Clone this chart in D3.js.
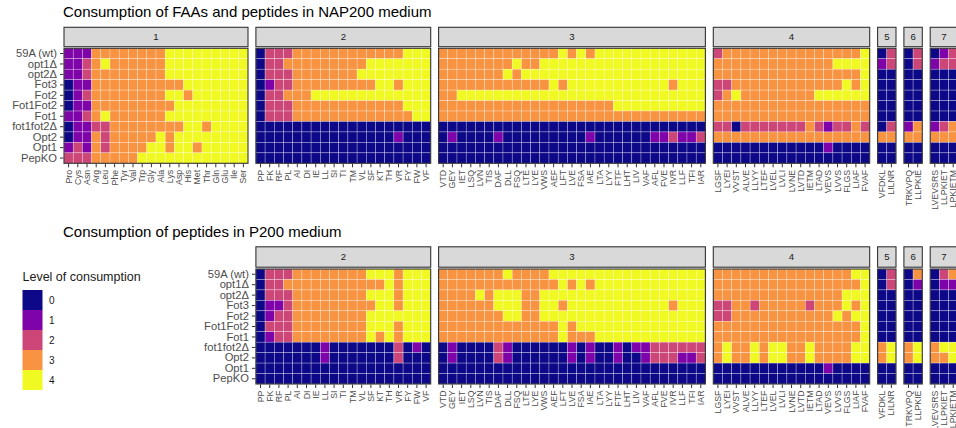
<!DOCTYPE html>
<html>
<head>
<meta charset="utf-8">
<script src="https://cdn.jsdelivr.net/npm/d3@7"></script>
<style>
  body { margin: 0; background: #fff; }
  svg { display: block; }
  text { font-family: "Liberation Sans", Arial, Helvetica, sans-serif; }
</style>
</head>
<body>
<svg id="chart" width="956" height="428"></svg>
<script>
// ---- categories -------------------------------------------------------
const strains = ["59A (wt)", "opt1Δ", "opt2Δ", "Fot3", "Fot2", "Fot1Fot2", "Fot1", "fot1fot2Δ", "Opt2", "Opt1", "PepKO"];
const levels = [0, 1, 2, 3, 4];
const levelColors = ["#0D0887", "#7E03A8", "#CC4678", "#F89441", "#F0F921"];

const aminoAcids = ["Pro","Cys","Asn","Arg","Leu","Phe","Tyr","Val","Trp","Gly","Ala","Lys","Asp","His","Met","Thr","Gln","Glu","Ile","Ser"];
const dipeptides = ["PP","FK","RF","PL","AI","DI","IE","LL","SI","TI","TM","VL","SF","KT","TH","VR","FY","FW","VF"];
const tripeptides = ["VTD","GEY","IET","LSQ","LVN","TIS","DAF","DLL","FSQ","LTE","LYE","VWS","AEF","LFT","LVE","FSA","IAE","LTA","LYY","FTF","LHT","LIV","VAF","AFL","FVE","IVR","LLF","TFI","IAR"];
const tetrapeptides = ["LGSF","LYEI","VVST","ALVE","LLYY","LTEF","LVEL","LVLI","LVNE","LVTD","IETM","LTAD","VEVS","LVVS","FLGS","LIAF","FVAF"];
const pentapeptides = ["VFDKL","LILNR"];
const hexapeptides = ["TRKVPQ","LLPKIE"];
const heptapeptides = ["LVEVSRS","LLPKIET","LPKIETM"];

const facetLabels = ["1", "2", "3", "4", "5", "6", "7"];
const facetColumns = [aminoAcids, dipeptides, tripeptides, tetrapeptides, pentapeptides, hexapeptides, heptapeptides];

// ---- consumption levels, NAP200 medium (rows follow `strains`) --------
const nap200Facet1 = [
  [1,1,1,3,3,3,3,3,3,3,3,4,4,4,4,4,4,4,4,4],
  [1,1,2,3,4,3,3,3,3,3,3,4,4,4,4,4,4,4,4,4],
  [1,1,2,3,3,3,3,3,3,3,3,4,4,4,4,4,4,4,4,4],
  [0,1,1,3,3,3,3,3,3,3,3,3,3,4,4,4,4,4,4,4],
  [0,1,2,3,3,3,3,3,3,3,3,4,4,3,4,4,4,4,4,4],
  [0,1,1,3,3,3,3,3,3,3,3,3,4,4,4,4,4,4,4,4],
  [1,1,2,3,4,3,3,3,3,3,3,4,4,4,4,4,4,4,4,4],
  [0,1,1,2,2,3,3,3,3,3,3,3,3,4,4,3,4,4,4,4],
  [0,1,1,3,2,3,3,3,3,3,4,3,4,4,4,4,4,4,4,4],
  [1,2,1,3,2,3,3,3,3,4,4,3,4,4,3,4,4,4,4,4],
  [2,2,2,3,3,3,3,3,4,4,4,4,4,4,4,4,4,4,4,4]
];
const nap200Facet2 = [
  [0,2,2,2,3,3,3,3,3,3,3,3,3,3,3,3,4,4,4],
  [0,2,2,3,3,3,3,3,3,3,3,3,4,4,4,4,4,4,4],
  [0,2,2,2,3,3,3,3,3,3,3,4,4,4,4,4,4,4,4],
  [0,1,2,2,3,3,3,3,3,3,3,3,3,4,4,3,4,4,4],
  [0,2,2,3,3,3,4,4,4,4,4,4,4,4,4,4,4,4,4],
  [0,2,2,2,3,3,3,3,3,3,3,3,3,3,3,3,4,4,4],
  [0,2,2,2,3,3,3,3,3,3,3,3,3,3,3,3,3,4,4],
  [0,0,0,0,0,0,0,0,0,0,0,0,0,0,0,0,0,0,0],
  [0,0,0,0,0,0,0,0,0,0,0,0,0,0,0,1,0,0,0],
  [0,0,0,0,0,0,0,0,0,0,0,0,0,0,0,0,0,0,0],
  [0,0,0,0,0,0,0,0,0,0,0,0,0,0,0,0,0,0,0]
];
const nap200Facet3 = [
  [3,3,3,3,3,3,3,3,3,3,3,3,3,4,3,4,3,4,4,4,4,4,4,4,4,4,4,4,4],
  [3,3,3,3,3,3,3,3,4,3,3,4,4,4,4,4,4,4,4,4,4,4,4,4,4,4,4,4,4],
  [3,3,3,3,3,3,3,4,3,4,4,4,4,4,4,4,4,4,4,4,4,4,4,4,4,4,4,4,4],
  [3,3,3,3,3,3,3,3,3,3,3,3,4,3,4,4,4,4,4,4,4,4,4,4,4,3,4,4,4],
  [3,3,4,4,4,4,4,4,4,4,4,4,4,4,4,4,4,4,4,4,4,4,4,4,4,4,4,4,4],
  [3,3,3,3,3,3,3,3,3,3,3,3,3,3,3,3,3,3,3,4,4,4,4,4,4,4,4,4,4],
  [3,3,3,3,3,3,3,3,3,3,3,3,3,3,3,3,3,3,3,3,3,3,3,3,3,3,3,3,3],
  [0,0,0,0,0,0,0,0,0,0,0,0,0,0,0,0,0,0,0,0,0,0,0,0,0,0,0,0,0],
  [0,1,0,0,0,0,1,0,0,0,0,0,0,0,0,0,1,0,0,0,0,0,0,1,1,2,1,1,2],
  [0,0,0,0,0,0,0,0,0,0,0,0,0,0,0,0,0,0,0,0,0,0,0,0,0,0,0,0,0],
  [0,0,0,0,0,0,0,0,0,0,0,0,0,0,0,0,0,0,0,0,0,0,0,0,0,0,0,0,0]
];
const nap200Facet4 = [
  [2,3,3,3,3,3,3,3,3,3,3,3,3,3,3,3,4],
  [3,3,3,3,3,3,3,3,3,3,3,3,3,4,4,4,4],
  [3,3,3,3,3,3,3,3,3,3,3,3,3,3,3,3,4],
  [2,2,3,3,3,3,3,3,3,3,3,3,3,3,4,3,4],
  [2,3,4,3,3,3,3,3,3,3,3,4,4,4,4,4,4],
  [3,3,3,3,3,3,3,3,3,3,3,3,3,3,3,3,3],
  [3,3,3,3,3,3,3,3,3,3,3,3,3,3,3,3,3],
  [2,2,0,2,2,2,2,2,2,2,3,2,1,2,2,3,2],
  [3,3,3,3,3,3,3,3,3,3,3,3,3,3,3,3,3],
  [0,0,0,0,0,0,0,0,0,0,0,0,1,0,0,0,0],
  [0,0,0,0,0,0,0,0,0,0,0,0,0,0,0,0,0]
];
const nap200Facet5 = [[0,2],[1,2],[0,0],[0,0],[0,0],[0,0],[0,0],[0,2],[3,3],[0,0],[0,0]];
const nap200Facet6 = [[0,2],[0,2],[0,0],[0,0],[0,0],[0,0],[0,0],[1,3],[3,3],[0,0],[0,0]];
const nap200Facet7 = [[0,1,2],[1,2,2],[0,0,0],[0,0,0],[0,0,0],[0,0,0],[0,0,0],[1,2,3],[3,3,3],[0,0,0],[0,0,0]];

// ---- consumption levels, P200 medium (peptides only) ------------------
const p200Facet2 = [
  [0,2,2,2,3,3,3,3,3,3,3,3,4,4,4,3,4,4,4],
  [0,2,2,3,3,3,3,3,3,3,3,3,3,3,4,3,4,4,4],
  [0,2,2,2,3,3,3,3,3,3,3,3,4,4,4,3,4,4,4],
  [0,1,1,2,3,3,3,3,3,3,3,3,3,4,4,3,4,4,4],
  [0,1,2,2,3,3,3,3,3,3,3,3,4,4,4,4,4,4,4],
  [0,2,2,2,3,3,3,3,3,3,3,3,4,4,4,3,4,4,4],
  [0,1,2,2,3,3,3,3,3,3,3,3,4,3,4,3,4,4,4],
  [0,0,0,0,0,0,0,1,0,0,0,0,0,0,0,2,0,1,0],
  [0,0,0,0,0,0,0,1,0,0,0,0,0,0,0,2,0,0,0],
  [0,0,0,0,0,0,0,0,0,0,0,0,0,0,0,0,0,0,0],
  [0,0,0,0,0,0,0,0,0,0,0,0,0,0,0,0,0,0,0]
];
const p200Facet3 = [
  [3,3,3,3,3,3,3,4,3,3,3,3,4,4,4,4,4,4,4,4,4,4,4,4,4,4,4,4,4],
  [3,3,3,3,3,3,3,3,3,3,3,3,3,4,3,4,3,4,4,4,4,4,4,4,4,4,4,4,4],
  [3,3,3,3,4,3,4,4,4,3,3,4,4,4,4,4,4,4,4,4,4,4,4,4,4,4,4,4,4],
  [3,3,3,3,3,3,4,4,4,3,3,4,4,3,4,4,4,4,4,4,4,4,4,4,4,3,4,4,4],
  [3,3,3,3,3,3,3,4,4,3,3,4,4,4,4,4,4,4,4,4,4,4,4,4,4,4,4,4,4],
  [3,3,3,3,3,3,3,3,3,3,3,3,3,4,3,4,4,4,4,4,4,4,4,4,4,4,4,4,4],
  [3,3,3,3,3,3,3,3,3,3,3,3,3,4,3,3,3,4,4,4,4,4,4,4,4,4,4,4,4],
  [0,1,0,0,0,0,2,1,0,0,0,0,0,0,1,0,1,0,0,1,0,1,1,2,2,2,2,2,2],
  [0,1,0,0,0,0,2,1,0,0,0,0,0,0,1,0,1,0,0,1,0,0,1,2,2,2,1,1,2],
  [0,0,0,0,0,0,0,0,0,0,0,0,0,0,0,0,0,0,0,0,0,0,0,0,0,0,0,0,0],
  [0,0,0,0,0,0,0,0,0,0,0,0,0,0,0,0,0,0,0,0,0,0,0,0,0,0,0,0,0]
];
const p200Facet4 = [
  [3,3,3,3,3,3,3,3,3,3,3,3,3,3,3,4,4],
  [3,3,3,3,3,3,3,3,3,3,3,3,3,3,3,3,4],
  [3,3,3,3,3,3,3,3,3,3,3,3,3,3,4,4,4],
  [2,2,3,3,2,3,3,3,3,3,2,3,3,3,4,3,4],
  [2,2,3,3,3,3,3,3,3,3,3,3,3,4,3,4,4],
  [3,3,3,3,3,3,3,3,3,3,3,3,3,3,3,3,4],
  [3,3,3,3,3,3,3,3,3,3,3,3,3,3,3,3,4],
  [3,4,3,3,4,3,4,4,3,3,4,3,3,3,3,4,4],
  [3,4,3,3,4,3,4,4,3,3,4,3,3,3,3,4,4],
  [0,0,0,0,0,0,0,0,0,0,0,0,1,0,0,0,0],
  [0,0,0,0,0,0,0,0,0,0,0,0,0,0,0,0,0]
];
const p200Facet5 = [[0,2],[0,2],[0,0],[0,0],[0,0],[0,0],[0,0],[3,4],[3,4],[0,0],[0,0]];
const p200Facet6 = [[0,3],[0,1],[0,0],[0,0],[0,0],[0,0],[0,0],[3,4],[3,4],[0,0],[0,0]];
const p200Facet7 = [[0,2,3],[0,1,1],[0,0,0],[0,0,0],[0,0,0],[0,0,0],[0,0,0],[3,4,4],[3,3,4],[0,0,0],[0,0,0]];

// ---- layout -----------------------------------------------------------
const svg = d3.select("#chart");
const colW = 9.2, panelGap = 7.9, plotLeft = 64;
const TEXT_DARK = "#4d4d4d", FRAME = "#333333";
const color = d3.scaleOrdinal().domain(levels).range(levelColors);

// horizontal extent of each facet (width proportional to its column count)
const facetExtent = [];
{
  let x = plotLeft;
  facetColumns.forEach(cols => {
    facetExtent.push([x, x + cols.length * colW]);
    x += cols.length * colW + panelGap;
  });
}

function drawHeatmap(opts) {
  const g = svg.append("g");
  const y = d3.scaleBand().domain(strains).range([opts.top, opts.bottom]);

  g.append("text")
    .attr("x", opts.titleX).attr("y", opts.titleY)
    .attr("font-size", 15).attr("fill", "#000")
    .text(opts.title);

  opts.facets.forEach(f => {
    const [x0, x1] = facetExtent[f.index];
    const cols = facetColumns[f.index];
    const x = d3.scaleBand().domain(cols).range([x0, x1]);
    const cells = [];
    f.values.forEach((row, ri) => row.forEach((v, ci) => cells.push({ strain: strains[ri], col: cols[ci], v })));

    // strip
    g.append("rect")
      .attr("x", x0).attr("y", opts.stripTop)
      .attr("width", x1 - x0).attr("height", opts.stripBottom - opts.stripTop)
      .attr("fill", "#d9d9d9").attr("stroke", FRAME).attr("stroke-width", 1.1);
    g.append("text")
      .attr("x", (x0 + x1) / 2).attr("y", (opts.stripTop + opts.stripBottom) / 2)
      .attr("dy", "0.35em").attr("text-anchor", "middle")
      .attr("font-size", 9.6).attr("fill", "#1a1a1a")
      .text(facetLabels[f.index]);

    // tiles
    g.append("g").selectAll("rect").data(cells).join("rect")
      .attr("x", d => x(d.col)).attr("y", d => y(d.strain))
      .attr("width", x.bandwidth()).attr("height", y.bandwidth())
      .attr("fill", d => color(d.v))
      .attr("stroke", "#ffffff").attr("stroke-opacity", 0.55).attr("stroke-width", 0.5);

    // panel frame
    g.append("rect")
      .attr("x", x0).attr("y", opts.top)
      .attr("width", x1 - x0).attr("height", opts.bottom - opts.top)
      .attr("fill", "none").attr("stroke", FRAME).attr("stroke-width", 1.1);

    // x axis with vertical labels
    const ax = g.append("g")
      .attr("transform", `translate(0,${opts.bottom + 0.5})`)
      .call(d3.axisBottom(x).tickSize(3.5).tickPadding(2.5));
    ax.select(".domain").remove();
    ax.selectAll(".tick line").attr("stroke", FRAME).attr("stroke-width", 1);
    ax.selectAll(".tick text")
      .attr("transform", "rotate(-90)")
      .attr("text-anchor", "end")
      .attr("x", -6).attr("y", 0).attr("dy", "0.34em")
      .attr("font-size", 8.8).attr("fill", TEXT_DARK)
      .attr("font-family", '"Liberation Sans", Arial, sans-serif');
  });

  // y axis (strain names) on the first facet
  const yx = facetExtent[opts.facets[0].index][0];
  const ay = g.append("g")
    .attr("transform", `translate(${yx - 0.5},0)`)
    .call(d3.axisLeft(y).tickSize(3.5).tickPadding(3));
  ay.select(".domain").remove();
  ay.selectAll(".tick line").attr("stroke", FRAME).attr("stroke-width", 1);
  ay.selectAll(".tick text")
    .attr("font-size", 11.2).attr("fill", TEXT_DARK)
    .attr("font-family", '"Liberation Sans", Arial, sans-serif');
}

drawHeatmap({
  title: "Consumption of FAAs and peptides in NAP200 medium",
  titleX: 63, titleY: 17,
  stripTop: 27.3, stripBottom: 46.7, top: 48.3, bottom: 163.3,
  facets: [
    { index: 0, values: nap200Facet1 },
    { index: 1, values: nap200Facet2 },
    { index: 2, values: nap200Facet3 },
    { index: 3, values: nap200Facet4 },
    { index: 4, values: nap200Facet5 },
    { index: 5, values: nap200Facet6 },
    { index: 6, values: nap200Facet7 }
  ]
});

drawHeatmap({
  title: "Consumption of peptides in P200 medium",
  titleX: 63, titleY: 236.5,
  stripTop: 246.8, stripBottom: 267.2, top: 269, bottom: 384,
  facets: [
    { index: 1, values: p200Facet2 },
    { index: 2, values: p200Facet3 },
    { index: 3, values: p200Facet4 },
    { index: 4, values: p200Facet5 },
    { index: 5, values: p200Facet6 },
    { index: 6, values: p200Facet7 }
  ]
});

// ---- legend -----------------------------------------------------------
const legend = svg.append("g").attr("transform", "translate(22.5,0)");
legend.append("text").attr("x", 0).attr("y", 281)
  .attr("font-size", 12.5).attr("fill", "#1a1a1a").text("Level of consumption");
const keyY = d3.scaleBand().domain(levels).range([290, 390]);
legend.selectAll("rect.key").data(levels).join("rect").attr("class", "key")
  .attr("x", 0).attr("y", d => keyY(d)).attr("width", 20).attr("height", keyY.bandwidth())
  .attr("fill", d => color(d));
legend.selectAll("text.lab").data(levels).join("text").attr("class", "lab")
  .attr("x", 26.5).attr("y", d => keyY(d) + keyY.bandwidth() / 2).attr("dy", "0.35em")
  .attr("font-size", 10).attr("fill", "#1a1a1a").text(d => d);
</script>
</body>
</html>
